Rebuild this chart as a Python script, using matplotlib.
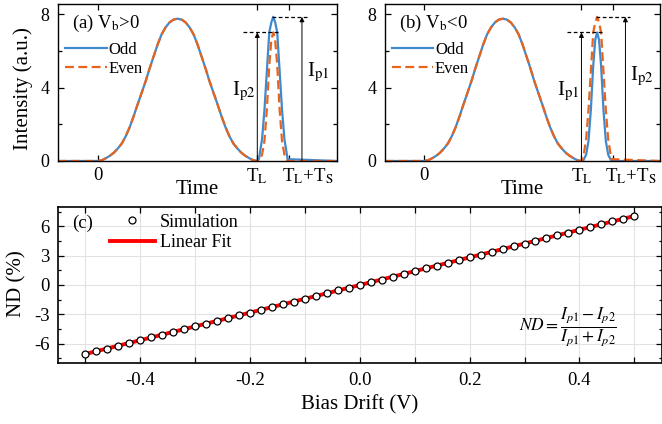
import numpy as np
import matplotlib
matplotlib.use("Agg")
import matplotlib.pyplot as plt
from matplotlib.ticker import MultipleLocator
from matplotlib.transforms import ScaledTranslation, blended_transform_factory

plt.rcParams['font.family'] = ['Liberation Serif', 'DejaVu Serif']
plt.rcParams['mathtext.fontset'] = 'stix'
plt.rcParams['axes.unicode_minus'] = False

blue = '#4189cd'
orange = '#e8641c'

# long pulse (same for odd and even), time in units of T_L
t_long = [-0.25, 0.0, 0.025, 0.05, 0.075, 0.1, 0.125, 0.15, 0.175, 0.2, 0.225,
          0.25, 0.275, 0.3, 0.325, 0.35, 0.375, 0.4, 0.425, 0.45, 0.475, 0.5,
          0.525, 0.55, 0.575, 0.6, 0.625, 0.65, 0.675, 0.7, 0.725, 0.75,
          0.775, 0.8, 0.825, 0.85, 0.875, 0.9, 0.925, 0.95, 0.975, 1.0]
i_long = [0.0, 0.0, 0.04, 0.15, 0.28, 0.45, 0.68, 0.95, 1.35, 1.85, 2.45,
          3.1, 3.72, 4.35, 5.05, 5.7, 6.35, 6.9, 7.28, 7.55, 7.7, 7.75,
          7.7, 7.55, 7.28, 6.9, 6.35, 5.7, 5.05, 4.35, 3.72, 3.1,
          2.45, 1.85, 1.35, 0.95, 0.68, 0.45, 0.28, 0.15, 0.04, 0.0]

# short pulse samples
t_short = [1.01, 1.03, 1.045, 1.06, 1.075, 1.088, 1.1, 1.112, 1.125, 1.14,
           1.155, 1.17, 1.19, 1.5]
i_short_high = [0.1, 1.2, 2.8, 4.9, 7.0, 7.55, 7.85, 7.55, 7.0, 4.9, 2.8, 1.2, 0.1, 0.0]
i_short_low = [0.0, 0.35, 1.1, 2.8, 5.2, 6.6, 7.0, 6.6, 5.2, 2.8, 1.1, 0.35, 0.0, 0.0]

# panel (c)
bias = [-0.50, -0.48, -0.46, -0.44, -0.42, -0.40, -0.38, -0.36, -0.34, -0.32,
        -0.30, -0.28, -0.26, -0.24, -0.22, -0.20, -0.18, -0.16, -0.14, -0.12,
        -0.10, -0.08, -0.06, -0.04, -0.02, 0.00, 0.02, 0.04, 0.06, 0.08,
        0.10, 0.12, 0.14, 0.16, 0.18, 0.20, 0.22, 0.24, 0.26, 0.28,
        0.30, 0.32, 0.34, 0.36, 0.38, 0.40, 0.42, 0.44, 0.46, 0.48, 0.50]
nd_sim = [-7.05, -6.77, -6.49, -6.20, -5.92, -5.64, -5.36, -5.08, -4.79, -4.51,
          -4.23, -3.95, -3.67, -3.38, -3.10, -2.82, -2.54, -2.26, -1.97, -1.69,
          -1.41, -1.13, -0.85, -0.56, -0.28, 0.00, 0.28, 0.56, 0.85, 1.13,
          1.41, 1.69, 1.97, 2.26, 2.54, 2.82, 3.10, 3.38, 3.67, 3.95,
          4.23, 4.51, 4.79, 5.08, 5.36, 5.64, 5.92, 6.20, 6.49, 6.77, 7.05]

fig = plt.figure(figsize=(6.62, 4.24), dpi=100)
ax_a = fig.add_axes([0.0876, 0.6203, 0.4215, 0.3703])
ax_b = fig.add_axes([0.5816, 0.6203, 0.4154, 0.3703])
ax_c = fig.add_axes([0.0876, 0.1432, 0.912, 0.3693])


def pulse_panel(ax, odd_short, even_short, tag, lab_left, lab_right, left_peak, right_peak, top_x):
    ax.plot(t_long + t_short, i_long + odd_short, color=blue, lw=1.6, label='Odd')
    ax.plot(t_long + t_short, i_long + even_short, color=orange, lw=1.6,
            dashes=(4, 2), label='Even')
    ax.set_xlim(-0.25, 1.5)
    ax.set_ylim(0, 8.55)
    ax.set_yticks([0, 4, 8])
    ax.yaxis.set_minor_locator(MultipleLocator(2))
    ax.set_xticks([0, 1.0, 1.2])
    ax.set_xticklabels(['0', r'T$_\mathrm{L}$', ''])
    # the T_L+T_S label sits right of its tick
    tr = blended_transform_factory(ax.transData, ax.transAxes) + \
        ScaledTranslation(0, -4 / 72, fig.dpi_scale_trans)
    ax.text(1.315, 0, r'T$_\mathrm{L}$+T$_\mathrm{S}$', transform=tr, fontsize=13.5,
            ha='center', va='top')
    ax.tick_params(which='both', direction='in', top=True, right=True, labelsize=13.5, width=0.9)
    ax.tick_params(which='major', length=4)
    ax.tick_params(which='minor', length=3)
    ax.tick_params(axis='x', pad=4)
    ax.tick_params(axis='y', pad=6, labelsize=13)
    for s in ax.spines.values():
        s.set_linewidth(1.0)
    ax.set_xlabel('Time', fontsize=15)
    ax.xaxis.set_label_coords(0.5, -0.12)
    # markers for the two peaks
    ax.plot([0.91, 1.14], [left_peak, left_peak], color='k', lw=0.9, dashes=(3, 2))
    ax.plot([1.09, 1.31], [right_peak, right_peak], color='k', lw=0.9, dashes=(3, 2))
    for x, y in [(1.0, left_peak), (1.28, right_peak)]:
        ax.annotate('', xy=(x, y), xytext=(x, 0),
                    arrowprops=dict(arrowstyle='-|>', color='k', lw=0.7,
                                    mutation_scale=7, shrinkA=0, shrinkB=0))
    ax.text(0.99, 3.8, lab_left, fontsize=15, ha='right', va='center')
    ax.text(1.31, top_x, lab_right, fontsize=15, ha='left', va='center')
    ax.text(0.05, 0.873, tag, transform=ax.transAxes, fontsize=13.5, va='center')


pulse_panel(ax_a, i_short_high, i_short_low, r'(a) V$_\mathrm{b}$>0',
            r'I$_\mathrm{p2}$', r'I$_\mathrm{p1}$', 7.0, 7.85, 4.8)
pulse_panel(ax_b, i_short_low, i_short_high, r'(b) V$_\mathrm{b}$<0',
            r'I$_\mathrm{p1}$', r'I$_\mathrm{p2}$', 7.0, 7.85, 4.6)
ax_a.set_ylabel('Intensity (a.u.)', fontsize=15)
ax_a.yaxis.set_label_coords(-0.09, 0.46)
for ax, x0 in [(ax_a, 0.025), (ax_b, 0.024)]:
    ax.legend(loc='upper left', bbox_to_anchor=(x0, 0.76), frameon=False,
              fontsize=12, handlelength=2.5, handletextpad=0.1,
              labelspacing=0.2, borderaxespad=0, borderpad=0)

# panel (c)
slope, icpt = np.polyfit(bias, nd_sim, 1)
bx = np.array(bias)
ax_c.plot(bx, slope * bx + icpt, color='red', lw=2.8, label='Linear Fit', zorder=2)
ax_c.plot(bias, nd_sim, 'o', ms=5, mfc='white', mec='black', mew=0.9,
          label='Simulation', zorder=3)
ax_c.set_xlim(-0.55, 0.55)
ax_c.set_ylim(-8, 8)
xt = [-0.5, -0.4, -0.3, -0.2, -0.1, 0.0, 0.1, 0.2, 0.3, 0.4, 0.5]
ax_c.set_xticks(xt)
ax_c.set_xticklabels(['%.1f' % v if i % 2 == 1 else '' for i, v in enumerate(xt)])
ax_c.set_yticks([-6, -3, 0, 3, 6])
ax_c.yaxis.set_minor_locator(MultipleLocator(1.5))
ax_c.grid(True, color='#e2e2e2', lw=0.8, zorder=0)
ax_c.set_axisbelow(True)
ax_c.tick_params(which='both', direction='in', top=True, right=True, labelsize=13.5, width=0.9)
ax_c.tick_params(which='major', length=4)
ax_c.tick_params(which='minor', length=2.5)
ax_c.tick_params(axis='x', pad=6)
ax_c.tick_params(axis='y', pad=6)
for s in ax_c.spines.values():
    s.set_linewidth(1.2)
ax_c.set_xlabel('Bias Drift (V)', fontsize=15)
ax_c.xaxis.set_label_coords(0.5, -0.2)
ax_c.set_ylabel('ND (%)', fontsize=15)
ax_c.yaxis.set_label_coords(-0.053, 0.51)
ax_c.text(0.023, 0.894, '(c)', transform=ax_c.transAxes, fontsize=13.5, va='center')
h, l = ax_c.get_legend_handles_labels()
ax_c.legend(h[::-1], l[::-1], loc='upper left', bbox_to_anchor=(0.086, 0.955),
            frameon=False, fontsize=13, handlelength=2.5, handletextpad=0.25,
            labelspacing=0.2, borderaxespad=0, borderpad=0)
ax_c.text(0.379, -4.26, r'$ND=\dfrac{I_{p1}-I_{p2}}{I_{p1}+I_{p2}}$', fontsize=12.5,
          ha='center', va='center')

fig.savefig('out.png', dpi=100)
